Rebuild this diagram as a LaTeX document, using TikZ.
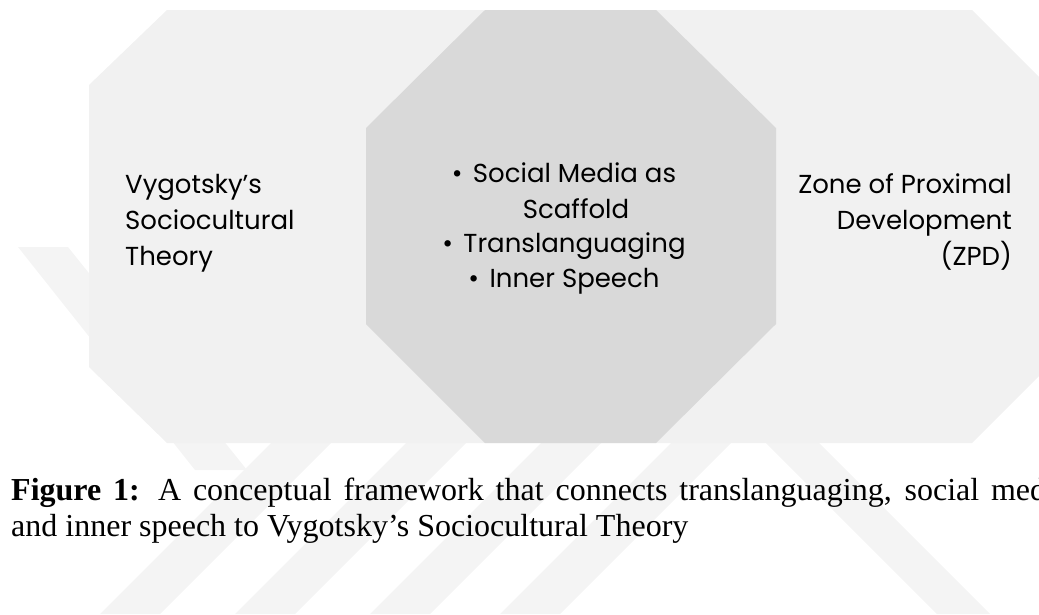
\documentclass[tikz,border=0pt]{standalone}
\usepackage{fontspec}
\setmainfont{Liberation Serif}
\newfontfamily\diagfont{Poppins}
\definecolor{shapelight}{HTML}{F1F1F1}
\definecolor{shapedark}{HTML}{D9D9D9}
\definecolor{markgray}{HTML}{F4F4F4}
\begin{document}
\begin{tikzpicture}[x=1pt,y=-1pt,
  boxtext/.style={inner sep=0pt, text=black, font=\diagfont\fontsize{26}{31}\selectfont},
  captext/.style={inner sep=0pt, anchor=base west, font=\fontsize{32}{38}\selectfont}]
\useasboundingbox (0,0) rectangle (1039,614);
\clip (0,0) rectangle (1039,614);
% faint diagonal bands in the background
\fill[markgray] (18,247) -- (68,247) -- (247,470) -- (195,470) -- cycle;
\foreach \x in {100,235,370,500}
  \fill[markgray] (\x,614) -- ({\x+60},614) -- ({\x+231},443) -- ({\x+171},443) -- cycle;
\fill[markgray] (766,443) -- (819,443) -- (990,614) -- (937,614) -- cycle;
% outer light octagon
\fill[shapelight] (167,10) -- (972,10) -- (1050,88) -- (1050,365) -- (972,443)
  -- (167,443) -- (89,367) -- (89,85) -- cycle;
% central darker octagon
\fill[shapedark] (485,10) -- (656,10) -- (776,128) -- (776,324) -- (656,443)
  -- (485,443) -- (366,324) -- (366,128) -- cycle;
% left block
\node[boxtext, anchor=base west] (l1) at (125,193) {Vygotsky’s};
\node[boxtext, anchor=base west] (l2) at (125,229) {Sociocultural};
\node[boxtext, anchor=base west] (l3) at (125,265) {Theory};
% centre block
\node[boxtext, anchor=base] (c1) at (564,182) {•\hspace{0.4em}Social Media as};
\node[boxtext, anchor=base] (c2) at (576,218) {Scaffold};
\node[boxtext, anchor=base] (c3) at (564,252) {•\hspace{0.4em}Translanguaging};
\node[boxtext, anchor=base] (c4) at (564,287) {•\hspace{0.4em}Inner Speech};
% right block
\node[boxtext, anchor=base east] (r1) at (1012,193) {Zone of Proximal};
\node[boxtext, anchor=base east] (r2) at (1012,229) {Development};
\node[boxtext, anchor=base east] (r3) at (1012,265) {(ZPD)};
% caption
\node[captext] (cap1) at (11,500) {\makebox[1066pt][s]{\textbf{Figure 1:} A conceptual framework that connects translanguaging, social media,}};
\node[captext] (cap2) at (11,536) {and inner speech to Vygotsky’s Sociocultural Theory};
\end{tikzpicture}
\end{document}
